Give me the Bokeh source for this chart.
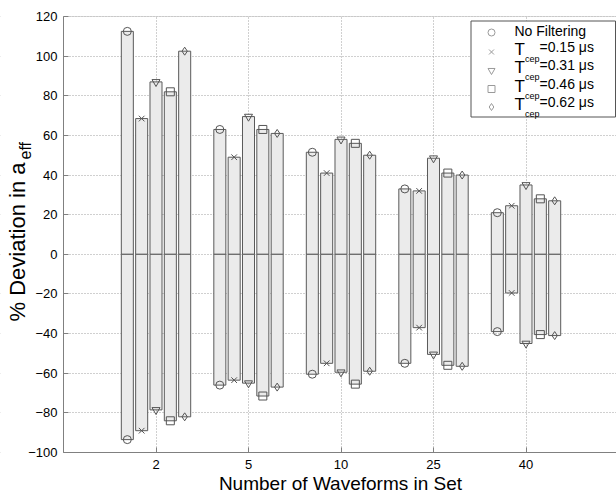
import math
from bokeh.plotting import figure
from bokeh.models import FixedTicker, Label, Range1d, BoxAnnotation
from bokeh.embed import file_html
from bokeh.resources import INLINE

# ---------------- data ----------------
groups = ["2", "5", "10", "25", "40"]
legend_names = ["No Filtering", "0.15", "0.31", "0.46", "0.62"]
upper_nofilt = [112.5, 63, 51.5, 33, 21]
upper_015 = [68.5, 49, 41, 32, 24.5]
upper_031 = [87, 69.5, 58, 48.5, 35]
upper_046 = [82, 63, 56, 41, 28]
upper_062 = [102.5, 61, 50, 40, 27]
lower_nofilt = [-93.5, -66, -60.5, -55, -39]
lower_015 = [-89, -63.5, -55, -37, -19.5]
lower_031 = [-78.5, -65, -59.5, -50.5, -45]
lower_046 = [-84, -71.5, -65.5, -56, -40.5]
lower_062 = [-82, -67, -59, -56.5, -41]
yticks = list(range(-100, 121, 20))

uppers = [upper_nofilt, upper_015, upper_031, upper_046, upper_062]
lowers = [lower_nofilt, lower_015, lower_031, lower_046, lower_062]
markers = ["circle", "x", "inverted_triangle", "square", "diamond"]

# ---------------- geometry (axes box on the page) ----------------
W, H = 616, 498
FL, FT, FB = 63, 16, 452          # left / top / bottom of the axes box, px
XPX = 92.5                        # px per category step
YMIN, YMAX = -100, 120
K = (FB - FT) / (YMAX - YMIN)     # px per y unit
XS, XE = -FL / XPX, (W - FL) / XPX
YS, YE = YMIN - (H - FB) / K, YMAX + FT / K
BASE = 0.38                       # anchor correction for alphabetic baseline (em)


def px2x(px):
    return (px - FL) / XPX


def py2y(py):
    return YMAX - (py - FT) / K


FONT = "Liberation Sans"
AX = "#808080"

p = figure(width=W, height=H, x_range=Range1d(XS, XE), y_range=Range1d(YS, YE),
           output_backend="svg", toolbar_location=None, min_border=0,
           min_border_left=0, min_border_right=0, min_border_top=0, min_border_bottom=0)
p.outline_line_color = None
p.background_fill_color = "white"
p.border_fill_color = "white"

p.xaxis.ticker = FixedTicker(ticks=[1, 2, 3, 4, 5])
p.xaxis.major_label_overrides = {i + 1: g for i, g in enumerate(groups)}
p.yaxis.ticker = FixedTicker(ticks=yticks)
p.xaxis.fixed_location = YMIN
p.xaxis.bounds = (0, XE)
p.yaxis.fixed_location = 0
p.yaxis.bounds = (YMIN, YMAX)
for ax in (p.xaxis, p.yaxis):
    ax.axis_line_color = AX
    ax.major_tick_line_color = AX
    ax.minor_tick_line_color = None
    ax.major_tick_in = 5
    ax.major_tick_out = 0
    ax.major_label_text_font = FONT
    ax.major_label_text_font_size = "13px"
    ax.major_label_text_color = "black"
p.xaxis.major_label_standoff = 7
p.yaxis.major_label_standoff = 6

p.grid.grid_line_color = "#a0a0a0"
p.grid.grid_line_dash = "1 2"
p.grid.grid_line_width = 1

# white margins covering the grid outside the axes box
for l, r, b, t in [(XS, 0, YS, YE), (0, XE, YMAX, YE), (0, XE, YS, YMIN)]:
    p.quad(left=[l], right=[r], bottom=[b], top=[t], fill_color="white", line_color=None)

BW = 0.13
STEP = 0.155
for j in range(5):
    xs = [i + 1 + (j - 2) * STEP for i in range(len(groups))]
    p.vbar(x=xs, width=BW, bottom=0, top=uppers[j], fill_color="#ebebeb",
           line_color="#5a5a5a", line_width=1)
    p.vbar(x=xs, width=BW, bottom=lowers[j], top=0, fill_color="#ebebeb",
           line_color="#5a5a5a", line_width=1)
    p.scatter(x=xs + xs, y=uppers[j] + lowers[j], marker=markers[j], size=8,
              fill_color=None, line_color="#555555", line_width=1)

# axes box (top border)
p.add_layout(BoxAnnotation(left=0, right=XE, bottom=YMIN, top=YMAX, fill_color=None,
                           line_color=AX, line_width=1))


def text(px, py, s, size, align="left", angle=0.0):
    """Place text whose alphabetic baseline passes through page pixel (px, py)."""
    d = BASE * size
    if angle:
        px -= d
    else:
        py -= d
    p.add_layout(Label(x=px2x(px), y=py2y(py), text=s, angle=angle, text_font=FONT,
                       text_font_size=f"{size}px", text_baseline="alphabetic",
                       text_align=align, text_color="black"))


# ---------------- legend ----------------
p.quad(left=[px2x(470.5)], right=[px2x(615)], top=[py2y(20.5)], bottom=[py2y(116.5)],
       fill_color="white", line_color="#555555", line_width=1)
rows_py = [32, 51.5, 70, 88.5, 106.5]
for j in range(5):
    p.scatter(x=[px2x(491)], y=[py2y(rows_py[j])], marker=markers[j], size=7,
              fill_color=None, line_color="#9a9a9a", line_width=1)

text(514, rows_py[0] + 4, legend_names[0], 14)
for j in range(1, 5):
    yy = rows_py[j]
    text(514, yy + 3.5, "T", 17)
    text(524.5, yy + 10, "cep", 9)
    text(539, yy, "=" + legend_names[j] + " \u03bcs", 14)

# ---------------- axis titles ----------------
text((FL + W) / 2 + 0.5, 490, "Number of Waveforms in Set", 19, align="center")
text(25.5, 321, "% Deviation in a", 22, angle=math.pi / 2)
text(31.5, 159, "eff", 16, angle=math.pi / 2)

open("out.html", "w").write(file_html(p, INLINE))
